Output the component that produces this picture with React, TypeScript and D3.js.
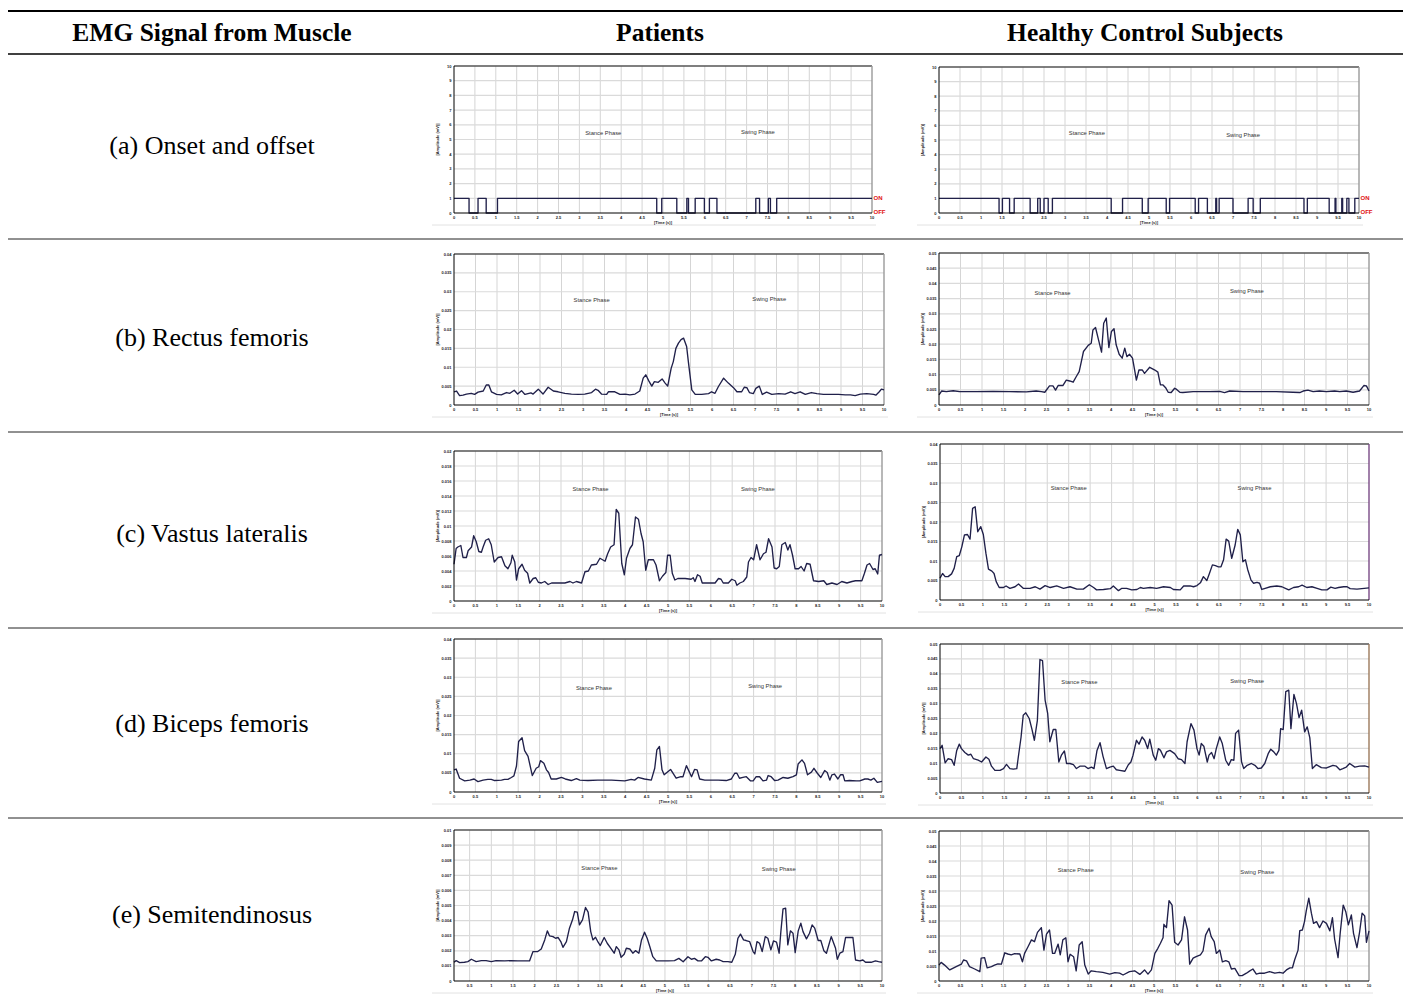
import React from 'react';
import * as d3 from 'd3';

type Pt = [number, number];

// table text
const headers = ['EMG Signal from Muscle', 'Patients', 'Healthy Control Subjects'];
const muscles = ['(a) Onset and offset', '(b) Rectus femoris', '(c) Vastus lateralis', '(d) Biceps femoris', '(e) Semitendinosus'];
const phaseNames = ['Stance Phase', 'Swing Phase'];

// tick labels
const xTicks = [0, 0.5, 1, 1.5, 2, 2.5, 3, 3.5, 4, 4.5, 5, 5.5, 6, 6.5, 7, 7.5, 8, 8.5, 9, 9.5, 10];
const yTicksOnOff = [0, 1, 2, 3, 4, 5, 6, 7, 8, 9, 10];
const yTicks040 = [0, 0.005, 0.01, 0.015, 0.02, 0.025, 0.03, 0.035, 0.04];
const yTicks050 = [0, 0.005, 0.01, 0.015, 0.02, 0.025, 0.03, 0.035, 0.04, 0.045, 0.05];
const yTicks020 = [0, 0.002, 0.004, 0.006, 0.008, 0.01, 0.012, 0.014, 0.016, 0.018, 0.02];
const yTicks010 = [0, 0.001, 0.002, 0.003, 0.004, 0.005, 0.006, 0.007, 0.008, 0.009, 0.01];

// onset/offset: intervals (s) where the muscle is ON
const onsetPatients: Pt[] = [[0, 0.36], [0.575, 0.77], [1.04, 4.85], [4.97, 5.33], [5.57, 5.61], [5.77, 5.99], [6.11, 6.29], [7.22, 7.31], [7.52, 7.57], [7.72, 10]];
const onsetHealthy: Pt[] = [[0, 1.43], [1.51, 1.68], [1.79, 2.17], [2.35, 2.41], [2.5, 2.6], [2.7, 4.1], [4.37, 4.84], [4.98, 5.41], [5.49, 6.1], [6.18, 6.39], [6.59, 6.61], [6.67, 7.0], [7.36, 7.48], [7.65, 8.69], [8.77, 9.29], [9.43, 9.45], [9.59, 9.61], [9.71, 9.76], [9.9, 10]];

// amplitude (mV) vs time (s)
const rectusPatients: Pt[] = [[0,0.0035],[0.06,0.0037],[0.13,0.0025],[0.21,0.0026],[0.29,0.0029],[0.40,0.0031],[0.48,0.0028],[0.56,0.0034],[0.68,0.0037],[0.75,0.0053],[0.81,0.0053],[0.87,0.0035],[0.99,0.0028],[1.10,0.0027],[1.22,0.0033],[1.30,0.0031],[1.40,0.0039],[1.48,0.0029],[1.57,0.0038],[1.65,0.0028],[1.79,0.0032],[1.84,0.0029],[1.96,0.0042],[2.07,0.0029],[2.19,0.0047],[2.31,0.0037],[2.42,0.0035],[2.58,0.0031],[2.73,0.0029],[2.89,0.0028],[3.04,0.0029],[3.20,0.0033],[3.29,0.0042],[3.35,0.0039],[3.43,0.0029],[3.55,0.0028],[3.59,0.0035],[3.74,0.0035],[3.86,0.0028],[3.98,0.0029],[4.09,0.0027],[4.21,0.0029],[4.32,0.0037],[4.40,0.0071],[4.46,0.0080],[4.53,0.0064],[4.60,0.0050],[4.66,0.0062],[4.75,0.0060],[4.84,0.0069],[4.91,0.0058],[4.97,0.0050],[5.05,0.0097],[5.10,0.0115],[5.16,0.0150],[5.22,0.0164],[5.28,0.0173],[5.34,0.0177],[5.41,0.0155],[5.45,0.0115],[5.53,0.0040],[5.61,0.0028],[5.76,0.0028],[5.92,0.0030],[5.99,0.0035],[6.07,0.0031],[6.15,0.0049],[6.27,0.0071],[6.38,0.0058],[6.50,0.0046],[6.58,0.0035],[6.69,0.0035],[6.75,0.0047],[6.81,0.0046],[6.87,0.0033],[6.96,0.0030],[7.02,0.0044],[7.10,0.0050],[7.17,0.0028],[7.27,0.0034],[7.39,0.0028],[7.55,0.0030],[7.70,0.0029],[7.83,0.0035],[7.93,0.0030],[8.05,0.0035],[8.17,0.0028],[8.31,0.0033],[8.44,0.0030],[8.59,0.0028],[8.75,0.0028],[8.94,0.0028],[9.10,0.0027],[9.22,0.0027],[9.33,0.0025],[9.45,0.0029],[9.60,0.0030],[9.76,0.0028],[9.81,0.0026],[9.89,0.0035],[9.94,0.0042],[10,0.0040]];

const rectusHealthy: Pt[] = [[0,0.0033],[0.06,0.0046],[0.17,0.0044],[0.33,0.0047],[0.48,0.0044],[0.87,0.0044],[1.26,0.0045],[1.64,0.0044],[2.03,0.0043],[2.26,0.0046],[2.38,0.0044],[2.46,0.0042],[2.57,0.0063],[2.65,0.0063],[2.71,0.0049],[2.77,0.0064],[2.88,0.0064],[2.96,0.0082],[3.04,0.0079],[3.12,0.0075],[3.19,0.0093],[3.26,0.0110],[3.31,0.0143],[3.36,0.0176],[3.47,0.0196],[3.54,0.0203],[3.58,0.0247],[3.64,0.0255],[3.70,0.0220],[3.78,0.0174],[3.83,0.0269],[3.89,0.0286],[3.95,0.0189],[4.01,0.0242],[4.07,0.0251],[4.12,0.0198],[4.19,0.0167],[4.26,0.0154],[4.32,0.0187],[4.37,0.0159],[4.43,0.0167],[4.50,0.0154],[4.55,0.0115],[4.59,0.0082],[4.65,0.0115],[4.73,0.0115],[4.78,0.0104],[4.90,0.0124],[5.02,0.0115],[5.09,0.0108],[5.15,0.0066],[5.21,0.0066],[5.27,0.0057],[5.33,0.0042],[5.40,0.0041],[5.48,0.0055],[5.52,0.0052],[5.60,0.0042],[5.67,0.0041],[5.91,0.0044],[6.29,0.0044],[6.53,0.0045],[6.64,0.0041],[6.76,0.0046],[7.07,0.0044],[7.46,0.0044],[7.84,0.0044],[8.23,0.0042],[8.39,0.0041],[8.47,0.0046],[8.58,0.0049],[8.70,0.0044],[8.85,0.0046],[9.01,0.0044],[9.20,0.0046],[9.32,0.0044],[9.47,0.0046],[9.63,0.0042],[9.78,0.0046],[9.88,0.0064],[9.94,0.0063],[10,0.0046]];

const vastusPatients: Pt[] = [[0,0.0049],[0.05,0.0070],[0.09,0.0072],[0.16,0.0074],[0.21,0.0058],[0.29,0.0058],[0.33,0.0067],[0.41,0.0072],[0.46,0.0087],[0.52,0.0079],[0.58,0.0066],[0.64,0.0065],[0.68,0.0072],[0.74,0.0081],[0.81,0.0083],[0.87,0.0075],[0.94,0.0052],[1.03,0.0058],[1.11,0.0059],[1.19,0.0047],[1.26,0.0043],[1.33,0.0051],[1.36,0.0061],[1.42,0.0052],[1.46,0.0028],[1.51,0.0043],[1.59,0.0049],[1.65,0.0041],[1.72,0.0037],[1.77,0.0024],[1.85,0.0030],[1.91,0.0031],[1.97,0.0025],[2.04,0.0024],[2.12,0.0026],[2.20,0.0022],[2.28,0.0024],[2.43,0.0024],[2.59,0.0024],[2.71,0.0026],[2.78,0.0024],[2.86,0.0026],[2.98,0.0024],[3.06,0.0039],[3.14,0.0040],[3.21,0.0048],[3.33,0.0049],[3.41,0.0057],[3.53,0.0053],[3.59,0.0063],[3.66,0.0072],[3.74,0.0075],[3.79,0.0122],[3.85,0.0117],[3.92,0.0050],[3.98,0.0035],[4.03,0.0057],[4.11,0.0070],[4.17,0.0075],[4.24,0.0112],[4.31,0.0109],[4.37,0.0090],[4.42,0.0079],[4.48,0.0041],[4.54,0.0055],[4.66,0.0055],[4.72,0.0048],[4.80,0.0027],[4.87,0.0033],[4.95,0.0038],[4.99,0.0061],[5.05,0.0061],[5.10,0.0037],[5.16,0.0028],[5.23,0.0030],[5.40,0.0030],[5.54,0.0029],[5.59,0.0031],[5.63,0.0026],[5.69,0.0035],[5.75,0.0033],[5.80,0.0024],[5.94,0.0024],[6.10,0.0024],[6.18,0.0030],[6.24,0.0029],[6.29,0.0024],[6.41,0.0024],[6.49,0.0029],[6.57,0.0027],[6.61,0.0021],[6.68,0.0024],[6.76,0.0026],[6.84,0.0032],[6.88,0.0052],[6.94,0.0058],[7.00,0.0055],[7.07,0.0075],[7.15,0.0055],[7.23,0.0063],[7.29,0.0065],[7.35,0.0083],[7.43,0.0072],[7.48,0.0044],[7.54,0.0043],[7.60,0.0046],[7.66,0.0075],[7.74,0.0078],[7.80,0.0068],[7.85,0.0075],[7.91,0.0061],[7.97,0.0043],[8.05,0.0043],[8.11,0.0046],[8.18,0.0040],[8.24,0.0050],[8.32,0.0049],[8.40,0.0027],[8.52,0.0026],[8.64,0.0027],[8.71,0.0022],[8.83,0.0024],[8.95,0.0022],[9.06,0.0026],[9.18,0.0024],[9.30,0.0026],[9.38,0.0027],[9.53,0.0027],[9.59,0.0037],[9.65,0.0048],[9.71,0.0050],[9.79,0.0042],[9.84,0.0043],[9.90,0.0036],[9.94,0.0061],[10,0.0062]];

const vastusHealthy: Pt[] = [[0,0.0056],[0.06,0.0068],[0.12,0.0060],[0.19,0.0060],[0.27,0.0067],[0.33,0.0081],[0.39,0.0111],[0.45,0.0114],[0.51,0.0137],[0.57,0.0167],[0.64,0.0168],[0.70,0.0156],[0.76,0.0235],[0.82,0.0239],[0.88,0.0175],[0.95,0.0188],[1.01,0.0168],[1.07,0.0120],[1.13,0.0079],[1.21,0.0074],[1.26,0.0068],[1.31,0.0047],[1.38,0.0032],[1.48,0.0032],[1.54,0.0036],[1.63,0.0030],[1.75,0.0034],[1.83,0.0041],[1.94,0.0030],[2.10,0.0030],[2.22,0.0034],[2.33,0.0028],[2.45,0.0037],[2.57,0.0032],[2.72,0.0036],[2.88,0.0030],[3.03,0.0034],[3.19,0.0028],[3.34,0.0028],[3.48,0.0039],[3.58,0.0032],[3.65,0.0026],[3.81,0.0027],[3.97,0.0029],[4.04,0.0036],[4.16,0.0024],[4.24,0.0030],[4.35,0.0030],[4.47,0.0026],[4.59,0.0027],[4.67,0.0032],[4.74,0.0030],[4.90,0.0032],[5.05,0.0030],[5.21,0.0034],[5.37,0.0032],[5.44,0.0027],[5.60,0.0026],[5.68,0.0036],[5.83,0.0036],[5.91,0.0034],[5.99,0.0037],[6.07,0.0044],[6.14,0.0060],[6.22,0.0050],[6.28,0.0068],[6.35,0.0090],[6.42,0.0088],[6.49,0.0085],[6.55,0.0085],[6.61,0.0103],[6.67,0.0156],[6.73,0.0151],[6.80,0.0107],[6.88,0.0141],[6.94,0.0181],[7.00,0.0167],[7.06,0.0098],[7.12,0.0103],[7.17,0.0079],[7.25,0.0051],[7.31,0.0043],[7.39,0.0045],[7.45,0.0043],[7.50,0.0027],[7.58,0.0030],[7.70,0.0034],[7.85,0.0036],[7.97,0.0034],[8.05,0.0030],[8.13,0.0026],[8.24,0.0032],[8.36,0.0034],[8.44,0.0038],[8.55,0.0032],[8.67,0.0034],[8.79,0.0030],[8.90,0.0026],[9.02,0.0026],[9.11,0.0033],[9.21,0.0030],[9.29,0.0032],[9.41,0.0034],[9.49,0.0034],[9.56,0.0029],[9.72,0.0028],[10,0.0031]];

const bicepsPatients: Pt[] = [[0,0.0058],[0.05,0.0060],[0.13,0.0036],[0.25,0.0029],[0.37,0.0031],[0.47,0.0034],[0.56,0.0027],[0.68,0.0031],[0.79,0.0033],[0.87,0.0033],[0.95,0.0030],[1.11,0.0031],[1.18,0.0033],[1.26,0.0033],[1.34,0.0038],[1.40,0.0042],[1.46,0.0068],[1.51,0.0132],[1.59,0.0142],[1.65,0.0108],[1.73,0.0093],[1.83,0.0043],[1.92,0.0062],[1.98,0.0066],[2.02,0.0082],[2.10,0.0075],[2.16,0.0058],[2.21,0.0051],[2.27,0.0034],[2.39,0.0034],[2.51,0.0038],[2.60,0.0034],[2.74,0.0030],[2.86,0.0035],[2.94,0.0031],[3.13,0.0030],[3.36,0.0031],[3.68,0.0031],[3.99,0.0029],[4.14,0.0033],[4.22,0.0031],[4.30,0.0038],[4.45,0.0034],[4.61,0.0031],[4.69,0.0062],[4.74,0.0110],[4.80,0.0119],[4.86,0.0058],[4.91,0.0045],[5.06,0.0059],[5.19,0.0036],[5.30,0.0040],[5.35,0.0040],[5.43,0.0069],[5.55,0.0040],[5.62,0.0059],[5.68,0.0058],[5.74,0.0034],[5.86,0.0031],[6.17,0.0031],[6.36,0.0030],[6.48,0.0034],[6.56,0.0049],[6.61,0.0049],[6.67,0.0036],[6.75,0.0038],[6.83,0.0040],[6.93,0.0029],[6.99,0.0029],[7.06,0.0040],[7.14,0.0040],[7.22,0.0029],[7.30,0.0031],[7.34,0.0043],[7.41,0.0040],[7.49,0.0030],[7.57,0.0031],[7.69,0.0038],[7.80,0.0036],[7.92,0.0040],[8.00,0.0045],[8.04,0.0073],[8.13,0.0084],[8.19,0.0075],[8.26,0.0045],[8.35,0.0052],[8.41,0.0062],[8.49,0.0049],[8.57,0.0038],[8.66,0.0056],[8.72,0.0051],[8.78,0.0031],[8.83,0.0045],[8.89,0.0047],[8.97,0.0034],[9.03,0.0045],[9.09,0.0045],[9.13,0.0029],[9.24,0.0030],[9.40,0.0029],[9.48,0.0029],[9.60,0.0034],[9.67,0.0034],[9.74,0.0031],[9.81,0.0036],[9.89,0.0025],[10,0.0028]];

const bicepsHealthy: Pt[] = [[0,0.0149],[0.05,0.0160],[0.12,0.0101],[0.19,0.0115],[0.27,0.0112],[0.33,0.0093],[0.39,0.0143],[0.45,0.0164],[0.50,0.0149],[0.58,0.0136],[0.66,0.0127],[0.72,0.0130],[0.78,0.0115],[0.89,0.0110],[0.97,0.0104],[1.07,0.0121],[1.14,0.0113],[1.20,0.0090],[1.28,0.0076],[1.40,0.0076],[1.48,0.0082],[1.55,0.0096],[1.63,0.0082],[1.71,0.0080],[1.79,0.0082],[1.82,0.0115],[1.89,0.0188],[1.94,0.0261],[2.00,0.0269],[2.08,0.0250],[2.14,0.0216],[2.20,0.0177],[2.27,0.0244],[2.33,0.0448],[2.39,0.0444],[2.45,0.0312],[2.51,0.0267],[2.56,0.0172],[2.64,0.0213],[2.70,0.0213],[2.77,0.0104],[2.83,0.0127],[2.90,0.0141],[2.95,0.0099],[3.03,0.0099],[3.11,0.0095],[3.18,0.0082],[3.26,0.0090],[3.38,0.0090],[3.45,0.0082],[3.53,0.0087],[3.59,0.0082],[3.66,0.0143],[3.73,0.0169],[3.80,0.0123],[3.88,0.0082],[3.96,0.0087],[4.04,0.0090],[4.11,0.0078],[4.19,0.0076],[4.31,0.0073],[4.39,0.0095],[4.45,0.0104],[4.50,0.0127],[4.58,0.0177],[4.64,0.0164],[4.71,0.0188],[4.77,0.0177],[4.84,0.0149],[4.89,0.0181],[4.97,0.0127],[5.03,0.0110],[5.09,0.0149],[5.14,0.0143],[5.22,0.0118],[5.28,0.0138],[5.36,0.0143],[5.47,0.0132],[5.55,0.0115],[5.63,0.0112],[5.71,0.0099],[5.76,0.0172],[5.85,0.0233],[5.92,0.0211],[5.99,0.0149],[6.04,0.0127],[6.09,0.0166],[6.15,0.0157],[6.23,0.0104],[6.27,0.0127],[6.33,0.0136],[6.39,0.0115],[6.44,0.0149],[6.52,0.0188],[6.58,0.0166],[6.66,0.0110],[6.73,0.0093],[6.79,0.0112],[6.85,0.0110],[6.89,0.0200],[6.96,0.0211],[7.03,0.0104],[7.08,0.0082],[7.16,0.0093],[7.26,0.0099],[7.34,0.0093],[7.41,0.0082],[7.49,0.0084],[7.57,0.0099],[7.65,0.0132],[7.71,0.0147],[7.78,0.0138],[7.84,0.0127],[7.90,0.0143],[7.94,0.0216],[8.00,0.0213],[8.06,0.0340],[8.13,0.0345],[8.18,0.0216],[8.25,0.0331],[8.31,0.0300],[8.37,0.0253],[8.43,0.0278],[8.50,0.0205],[8.56,0.0222],[8.62,0.0186],[8.68,0.0082],[8.77,0.0095],[8.89,0.0085],[9.01,0.0084],[9.16,0.0093],[9.24,0.0090],[9.32,0.0078],[9.39,0.0082],[9.47,0.0087],[9.55,0.0099],[9.67,0.0087],[9.78,0.0090],[9.90,0.0091],[10,0.0087]];

const semiPatients: Pt[] = [[0.14,0.00124],[0.19,0.00135],[0.27,0.00122],[0.38,0.00124],[0.46,0.00128],[0.54,0.00144],[0.65,0.00128],[0.77,0.00135],[0.88,0.00135],[1.0,0.00128],[1.11,0.00135],[1.31,0.00133],[1.46,0.00135],[1.61,0.00133],[1.77,0.00133],[1.88,0.00133],[1.96,0.00195],[2.07,0.00195],[2.15,0.00212],[2.23,0.00272],[2.29,0.00332],[2.34,0.00299],[2.42,0.00294],[2.48,0.00283],[2.54,0.00288],[2.60,0.00261],[2.65,0.00223],[2.73,0.00261],[2.80,0.0035],[2.87,0.00405],[2.92,0.0046],[2.98,0.00456],[3.03,0.00372],[3.10,0.00405],[3.17,0.00487],[3.23,0.00456],[3.29,0.00327],[3.34,0.00272],[3.40,0.0029],[3.46,0.00257],[3.51,0.00235],[3.60,0.00288],[3.67,0.0025],[3.75,0.00217],[3.83,0.00184],[3.88,0.00228],[3.94,0.00206],[3.99,0.00157],[4.06,0.00177],[4.11,0.00217],[4.19,0.00212],[4.26,0.00184],[4.32,0.00201],[4.40,0.00184],[4.46,0.00272],[4.53,0.00323],[4.59,0.00283],[4.65,0.00228],[4.72,0.00161],[4.80,0.00133],[4.92,0.00133],[5.07,0.00133],[5.22,0.00135],[5.32,0.0015],[5.42,0.00128],[5.53,0.00161],[5.61,0.00144],[5.68,0.0015],[5.76,0.00133],[5.84,0.00133],[5.93,0.00161],[5.99,0.00157],[6.07,0.00133],[6.18,0.00144],[6.26,0.00139],[6.34,0.00128],[6.45,0.00128],[6.54,0.00124],[6.62,0.00177],[6.68,0.00283],[6.74,0.0031],[6.81,0.00272],[6.87,0.00268],[6.95,0.00261],[7.03,0.00195],[7.07,0.00179],[7.12,0.00261],[7.18,0.0025],[7.24,0.00195],[7.31,0.00294],[7.37,0.00283],[7.44,0.00206],[7.50,0.00265],[7.57,0.00257],[7.63,0.00184],[7.67,0.00327],[7.72,0.00478],[7.78,0.00482],[7.83,0.00239],[7.89,0.00332],[7.95,0.00316],[8.00,0.00188],[8.07,0.00332],[8.13,0.00383],[8.18,0.00327],[8.26,0.00279],[8.33,0.00316],[8.39,0.00372],[8.45,0.0035],[8.53,0.00268],[8.59,0.00268],[8.66,0.00201],[8.72,0.00184],[8.83,0.00294],[8.93,0.00217],[8.97,0.00144],[9.03,0.00184],[9.10,0.00195],[9.16,0.00288],[9.26,0.00288],[9.33,0.00288],[9.39,0.00139],[9.49,0.00133],[9.56,0.00139],[9.62,0.00124],[9.75,0.00124],[9.85,0.00133],[9.92,0.00128],[10,0.00124]];

const semiHealthy: Pt[] = [[0,0.0053],[0.05,0.0062],[0.13,0.0053],[0.25,0.0037],[0.40,0.0048],[0.52,0.0056],[0.57,0.0070],[0.64,0.0067],[0.71,0.0048],[0.83,0.0040],[0.95,0.0031],[0.98,0.0076],[1.06,0.0078],[1.12,0.0044],[1.22,0.0048],[1.29,0.0053],[1.37,0.0057],[1.45,0.0056],[1.53,0.0094],[1.60,0.0090],[1.68,0.0087],[1.76,0.0091],[1.88,0.0090],[1.94,0.0064],[1.99,0.0092],[2.07,0.0114],[2.15,0.0137],[2.22,0.0131],[2.29,0.0162],[2.38,0.0178],[2.44,0.0103],[2.50,0.0156],[2.57,0.0170],[2.64,0.0092],[2.69,0.0092],[2.77,0.0123],[2.82,0.0087],[2.88,0.0137],[2.95,0.0144],[3.00,0.0064],[3.05,0.0089],[3.13,0.0081],[3.19,0.0034],[3.26,0.0120],[3.33,0.0131],[3.39,0.0053],[3.47,0.0023],[3.54,0.0034],[3.66,0.0031],[3.81,0.0029],[3.97,0.0023],[4.09,0.0028],[4.20,0.0026],[4.28,0.0020],[4.43,0.0031],[4.55,0.0034],[4.67,0.0022],[4.78,0.0037],[4.86,0.0023],[4.94,0.0037],[5.02,0.0092],[5.09,0.0109],[5.15,0.0126],[5.21,0.0144],[5.23,0.0189],[5.29,0.0178],[5.35,0.0268],[5.42,0.0253],[5.48,0.0129],[5.56,0.0120],[5.64,0.0137],[5.71,0.0214],[5.78,0.0170],[5.83,0.0056],[5.91,0.0076],[5.98,0.0081],[6.08,0.0087],[6.14,0.0100],[6.20,0.0153],[6.28,0.0176],[6.33,0.0148],[6.40,0.0131],[6.45,0.0092],[6.53,0.0103],[6.59,0.0064],[6.67,0.0068],[6.74,0.0064],[6.80,0.0040],[6.88,0.0042],[6.98,0.0018],[7.05,0.0018],[7.15,0.0026],[7.22,0.0033],[7.30,0.0040],[7.38,0.0023],[7.46,0.0026],[7.57,0.0026],[7.69,0.0031],[7.81,0.0026],[7.92,0.0029],[8.00,0.0026],[8.08,0.0037],[8.16,0.0044],[8.22,0.0044],[8.27,0.0070],[8.35,0.0103],[8.39,0.0168],[8.45,0.0170],[8.50,0.0198],[8.54,0.0233],[8.60,0.0276],[8.66,0.0226],[8.71,0.0192],[8.78,0.0198],[8.85,0.0178],[8.93,0.0200],[9.01,0.0192],[9.09,0.0167],[9.15,0.0211],[9.20,0.0140],[9.28,0.0078],[9.33,0.0159],[9.40,0.0253],[9.46,0.0231],[9.52,0.0187],[9.59,0.0220],[9.64,0.0159],[9.72,0.0111],[9.78,0.0162],[9.84,0.0226],[9.90,0.0217],[9.94,0.0129],[10,0.0167]];

// where the "Stance Phase" / "Swing Phase" notes sit (time, amplitude)
const phaseOnsetP: Pt[] = [[3.57, 5.41], [7.27, 5.5]];
const phaseOnsetH: Pt[] = [[3.52, 5.46], [7.24, 5.37]];
const phaseRectusP: Pt[] = [[3.2, 0.0277], [7.33, 0.028]];
const phaseRectusH: Pt[] = [[2.64, 0.0367], [7.16, 0.0374]];
const phaseVastusP: Pt[] = [[3.19, 0.0149], [7.1, 0.0149]];
const phaseVastusH: Pt[] = [[3.0, 0.0287], [7.33, 0.0287]];
const phaseBicepsP: Pt[] = [[3.27, 0.0272], [7.27, 0.0278]];
const phaseBicepsH: Pt[] = [[3.25, 0.0371], [7.16, 0.0376]];
const phaseSemiP: Pt[] = [[3.49, 0.00746], [7.62, 0.00741]];
const phaseSemiH: Pt[] = [[3.18, 0.0369], [7.4, 0.0364]];

interface PanelSpec {
  box: [number, number, number, number];
  yTicks: number[];
  xMin: number;
  series?: Pt[];
  onIntervals?: Pt[];
  phase: Pt[];
  rightStroke: string;
}

const fmt = (v: number) => String(+v.toFixed(4));
const sans = 'Liberation Sans, Arial, sans-serif';
const serif = 'Liberation Serif, Times New Roman, serif';

const Panel: React.FC<{ spec: PanelSpec }> = ({ spec }) => {
  const [l, t, r, b] = spec.box;
  const yMax = spec.yTicks[spec.yTicks.length - 1];
  const x = d3.scaleLinear().domain([spec.xMin, 10]).range([l, r]);
  const y = d3.scaleLinear().domain([0, yMax]).range([b, t]);
  const line = d3.line<Pt>().x(d => x(d[0])).y(d => y(d[1]));

  let path = '';
  if (spec.onIntervals) {
    const pts: Pt[] = [];
    spec.onIntervals.forEach(([s, e], i) => {
      if (i === 0 && s > 0) pts.push([0, 0]);
      pts.push([s, 1]);
      pts.push([e, e >= 10 ? 1 : 0]);
    });
    if (pts[pts.length - 1][0] < 10) pts.push([10, 0]);
    path = line.curve(d3.curveStepAfter)(pts) || '';
  } else if (spec.series) {
    path = line(spec.series) || '';
  }

  const xs = xTicks.filter(v => v >= spec.xMin);

  return (
    <g>
      <line x1={l - 22} x2={r + 4} y1={b + 12} y2={b + 12} stroke="#e2e2e2" strokeWidth={1} />
      {xs.filter(v => v > spec.xMin && v < 10).map(v => (
        <line key={'gx' + v} x1={x(v)} x2={x(v)} y1={t} y2={b} stroke="#d0d0d0" strokeWidth={0.9} />
      ))}
      {spec.yTicks.filter(v => v > 0 && v < yMax).map(v => (
        <line key={'gy' + v} x1={l} x2={r} y1={y(v)} y2={y(v)} stroke="#dadada" strokeWidth={1.2} />
      ))}
      <line x1={l} x2={r} y1={t} y2={t} stroke="#555" strokeWidth={1.5} />
      <line x1={r} x2={r} y1={t} y2={b} stroke={spec.rightStroke} strokeWidth={1.4} />
      <path d={path} fill="none" stroke="#20204a" strokeWidth={1.35} strokeLinejoin="round" />
      <line x1={l} x2={l} y1={t} y2={b} stroke="#000" strokeWidth={1} />
      <line x1={l} x2={r} y1={b} y2={b} stroke="#000" strokeWidth={1} />
      <g fontFamily={sans} fontSize={4} fontWeight="bold" fill="#222">
        {spec.yTicks.map(v => (
          <text key={'ty' + v} x={l - 2.5} y={y(v)} textAnchor="end" dominantBaseline="central">{fmt(v)}</text>
        ))}
        {xs.map(v => (
          <text key={'tx' + v} x={x(v)} y={b + 4.5} textAnchor="middle" dominantBaseline="central">{fmt(v)}</text>
        ))}
        <text x={x(5)} y={b + 9} textAnchor="middle" dominantBaseline="central">[Time (s)]</text>
        <text transform={`translate(${l - 17},${(t + b) / 2}) rotate(-90)`} textAnchor="middle"
          dominantBaseline="central">[Amplitude (mV)]</text>
      </g>
      {spec.phase.map((p, i) => (
        <text key={'ph' + i} x={x(p[0])} y={y(p[1])} textAnchor="middle" dominantBaseline="central"
          fontFamily={sans} fontSize={5.8} fill="#333">{phaseNames[i]}</text>
      ))}
      {spec.onIntervals && (
        <g fontFamily={sans} fontSize={6} fontWeight="bold" fill="#e01010">
          <text x={r + 1.5} y={y(1)} dominantBaseline="central">ON</text>
          <text x={r + 1.5} y={y(0) - 1} dominantBaseline="central">OFF</text>
        </g>
      )}
    </g>
  );
};

const panels: PanelSpec[] = [
  { box: [454, 66, 872, 213], yTicks: yTicksOnOff, xMin: 0, onIntervals: onsetPatients, phase: phaseOnsetP, rightStroke: '#9a9a9a' },
  { box: [939, 67, 1359, 213], yTicks: yTicksOnOff, xMin: 0, onIntervals: onsetHealthy, phase: phaseOnsetH, rightStroke: '#9a9a9a' },
  { box: [454, 254, 884, 405], yTicks: yTicks040, xMin: 0, series: rectusPatients, phase: phaseRectusP, rightStroke: '#9a9a9a' },
  { box: [939, 253, 1369, 405], yTicks: yTicks050, xMin: 0, series: rectusHealthy, phase: phaseRectusH, rightStroke: '#9a9a9a' },
  { box: [454, 451, 882, 601], yTicks: yTicks020, xMin: 0, series: vastusPatients, phase: phaseVastusP, rightStroke: '#9a9a9a' },
  { box: [940, 444, 1369, 600], yTicks: yTicks040, xMin: 0, series: vastusHealthy, phase: phaseVastusH, rightStroke: '#7a4a86' },
  { box: [454, 639, 882, 792], yTicks: yTicks040, xMin: 0, series: bicepsPatients, phase: phaseBicepsP, rightStroke: '#9a9a9a' },
  { box: [940, 644, 1369, 793], yTicks: yTicks050, xMin: 0, series: bicepsHealthy, phase: phaseBicepsH, rightStroke: '#9c7a5c' },
  { box: [454, 830, 882, 981], yTicks: yTicks010, xMin: 0.14, series: semiPatients, phase: phaseSemiP, rightStroke: '#9a9a9a' },
  { box: [939, 831, 1369, 981], yTicks: yTicks050, xMin: 0, series: semiHealthy, phase: phaseSemiH, rightStroke: '#9a9a9a' },
];

const headerX = [212, 660, 1145];
const rowCenters = [145, 337, 533, 723, 914];
const rowLines = [239, 432, 628, 818];

export default function App() {
  return (
    <div style={{ position: 'absolute', left: 0, top: 0, width: 1406, height: 1003, background: '#fff' }}>
      <svg width={1406} height={1003} style={{ display: 'block' }}>
        <rect width={1406} height={1003} fill="#fff" />
        <line x1={8} x2={1403} y1={11} y2={11} stroke="#000" strokeWidth={2} />
        {headers.map((h, i) => (
          <text key={h} x={headerX[i]} y={32} textAnchor="middle" dominantBaseline="central"
            fontFamily={serif} fontWeight="bold" fontSize={25.5}>{h}</text>
        ))}
        <line x1={8} x2={1403} y1={54} y2={54} stroke="#000" strokeWidth={1.3} />
        {rowLines.map(v => (
          <line key={v} x1={8} x2={1403} y1={v} y2={v} stroke="#222" strokeWidth={1} />
        ))}
        {muscles.map((m, i) => (
          <text key={m} x={212} y={rowCenters[i]} textAnchor="middle" dominantBaseline="central"
            fontFamily={serif} fontSize={26}>{m}</text>
        ))}
        {panels.map((p, i) => <Panel key={i} spec={p} />)}
      </svg>
    </div>
  );
}
